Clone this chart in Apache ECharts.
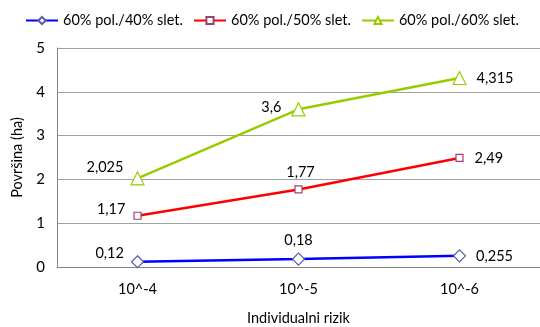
<!DOCTYPE html>
<html><head><meta charset="utf-8">
<script src="https://cdn.jsdelivr.net/npm/echarts@6/dist/echarts.min.js"></script>
<style>html,body{margin:0;padding:0;background:#fff}#c{width:540px;height:327px}</style>
</head><body><div id="c"></div>
<script>
const categories = ['10^-4', '10^-5', '10^-6'];
const seriesNames = ['60% pol./40% slet.', '60% pol./50% slet.', '60% pol./60% slet.'];
const s40 = [0.12, 0.18, 0.255];
const s50 = [1.17, 1.77, 2.49];
const s60 = [2.025, 3.6, 4.315];
const yTicks = [0, 1, 2, 3, 4, 5];

const FONT = 'Lato';
const FS = 14.5;
const fmt = p => String(p.value).replace('.', ',');
function lab(pos, offset) {
  return {show: true, position: pos, offset: offset, formatter: fmt, color: '#000', fontSize: FS, fontFamily: FONT, distance: 6};
}
function mk(values, labels) {
  return values.map((v, i) => ({value: v, label: labels[i]}));
}
const chart = echarts.init(document.getElementById('c'), null, {renderer: 'canvas'});
chart.setOption({
  animation: false,
  textStyle: {fontFamily: FONT},
  legend: {
    top: 8, left: 20, width: 520, itemWidth: 32, itemHeight: 9, itemGap: 10,
    textStyle: {fontSize: FS, color: '#000', fontFamily: FONT},
    data: seriesNames
  },
  grid: {left: 57, right: 0, top: 48, bottom: 60, outerBoundsMode: 'none', containLabel: false},
  xAxis: {
    type: 'category', data: categories, boundaryGap: true,
    name: 'Individualni rizik', nameLocation: 'middle', nameGap: 44,
    nameTextStyle: {fontSize: FS, color: '#000', fontFamily: FONT},
    axisLine: {lineStyle: {color: '#868686', width: 1}},
    axisTick: {show: false},
    axisLabel: {fontSize: FS, color: '#000', margin: 15, fontFamily: FONT},
    splitLine: {show: false}
  },
  yAxis: {
    type: 'value', min: yTicks[0], max: yTicks[yTicks.length - 1], interval: 1,
    name: 'Površina (ha)', nameLocation: 'middle', nameGap: 32, nameRotate: 90,
    nameTextStyle: {fontSize: FS, color: '#000', fontFamily: FONT},
    axisLine: {show: true, lineStyle: {color: '#868686', width: 1}},
    axisTick: {show: false},
    axisLabel: {fontSize: 15, color: '#000', margin: 12, fontFamily: FONT},
    splitLine: {lineStyle: {color: '#a0a0a0', width: 1}}
  },
  series: [
    {
      name: seriesNames[0], type: 'line', data: mk(s40, [lab('left', [-1, -8]), lab('top', [0, 1]), lab('right', [4, 0])]),
      symbol: 'diamond', symbolSize: 12, showAllSymbol: true,
      lineStyle: {color: '#0000ff', width: 2.5},
      itemStyle: {color: '#ffffff', borderColor: '#5a5aa8', borderWidth: 1.2},
      color: '#0000ff'
    },
    {
      name: seriesNames[1], type: 'line', data: mk(s50, [lab('left', [-2, -6]), lab('top', [2, 0]), lab('right', [5, 0])]),
      symbol: 'rect', symbolSize: 7,
      lineStyle: {color: '#ff0000', width: 2.5},
      itemStyle: {color: '#ffffff', borderColor: '#a0406e', borderWidth: 1.2},
      color: '#ff0000'
    },
    {
      name: seriesNames[2], type: 'line', data: mk(s60, [lab('left', [-1, -11]), lab('left', [-4, -2]), lab('right', [4, 0])]),
      symbol: 'triangle', symbolSize: 13,
      lineStyle: {color: '#99cc00', width: 2.5},
      itemStyle: {color: '#ffffff', borderColor: '#99cc00', borderWidth: 1.2},
      color: '#99cc00'
    }
  ]
});
</script></body></html>
